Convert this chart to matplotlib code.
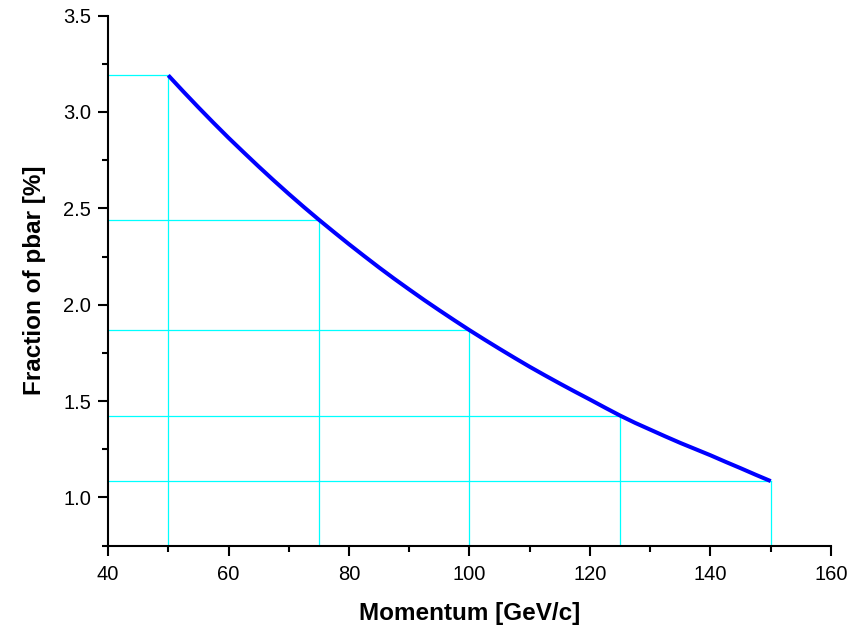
import matplotlib
matplotlib.use("Agg")
import matplotlib.pyplot as plt
from matplotlib.ticker import MultipleLocator

plt.rcParams['font.family'] = ['Liberation Sans', 'DejaVu Sans']

momentum = [50, 52.5, 55, 57.5, 60, 62.5, 65, 67.5, 70, 72.5, 75, 77.5, 80,
            82.5, 85, 87.5, 90, 92.5, 95, 97.5, 100, 102.5, 105, 107.5, 110,
            112.5, 115, 117.5, 120, 122.5, 125, 127.5, 130, 132.5, 135, 137.5,
            140, 142.5, 145, 147.5, 150]
fraction = [3.190, 3.106, 3.024, 2.944, 2.866, 2.791, 2.717, 2.645, 2.575,
            2.507, 2.441, 2.377, 2.314, 2.253, 2.193, 2.135, 2.079, 2.024,
            1.971, 1.919, 1.868, 1.819, 1.771, 1.724, 1.678, 1.634, 1.591,
            1.549, 1.508, 1.466, 1.425, 1.387, 1.352, 1.317, 1.283, 1.251,
            1.219, 1.185, 1.152, 1.118, 1.085]
marked_x = [50, 75, 100, 125, 150]
marked_y = [3.19, 2.441, 1.868, 1.425, 1.085]

fig = plt.figure(figsize=(8.58, 6.31), dpi=100)
ax = fig.add_axes([0.1259, 0.1352, 0.9685 - 0.1259, 0.9753 - 0.1352])

xmin, xmax = 40, 160
ymin, ymax = 0.75, 3.5

for mx, my in zip(marked_x, marked_y):
    ax.plot([xmin, mx], [my, my], color='#00ffff', lw=0.9, zorder=1)
    ax.plot([mx, mx], [ymin, my], color='#00ffff', lw=0.9, zorder=1)

ax.plot(momentum, fraction, color='#0000ff', lw=2.9, zorder=3,
        solid_capstyle='butt', solid_joinstyle='round')

ax.set_xlim(xmin, xmax)
ax.set_ylim(ymin, ymax)
ax.xaxis.set_major_locator(MultipleLocator(20))
ax.xaxis.set_minor_locator(MultipleLocator(10))
ax.yaxis.set_major_locator(MultipleLocator(0.5))
ax.yaxis.set_minor_locator(MultipleLocator(0.25))
ax.yaxis.set_major_formatter(plt.FuncFormatter(lambda v, p: f"{v:.1f}"))

for s in ['top', 'right']:
    ax.spines[s].set_visible(False)
for s in ['left', 'bottom']:
    ax.spines[s].set_linewidth(1.5)

ax.tick_params(which='major', direction='out', length=7.2, width=1.5,
               labelsize=14.5)
ax.tick_params(axis='x', which='major', pad=7)
ax.tick_params(axis='y', which='major', pad=5)
ax.tick_params(which='minor', direction='out', length=4.3, width=1.5)

ax.set_xlabel('Momentum [GeV/c]', fontsize=17.5, fontweight='bold', labelpad=13)
ax.set_ylabel('Fraction of pbar [%]', fontsize=17.5, fontweight='bold', labelpad=12)

fig.savefig('out.png', dpi=100)
